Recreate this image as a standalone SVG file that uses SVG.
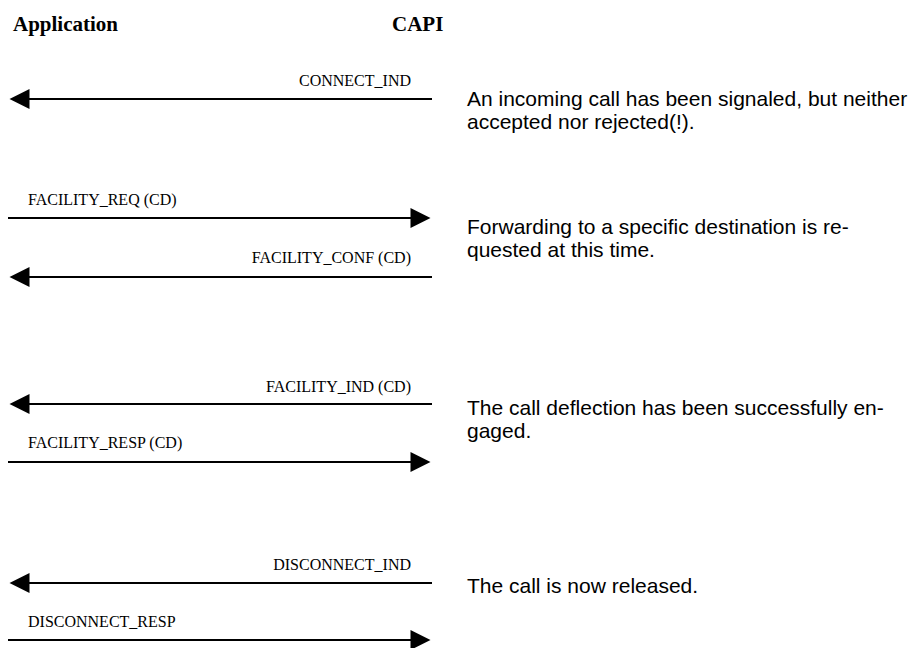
<svg xmlns="http://www.w3.org/2000/svg" width="919" height="648" viewBox="0 0 919 648">
<style>
.hdr{font-family:"Liberation Serif","Times New Roman",serif;font-weight:bold;font-size:21px;fill:#000}
.lbl{font-family:"Liberation Serif","Times New Roman",serif;font-size:16px;fill:#000}
.note{font-family:"Liberation Sans",Arial,sans-serif;font-size:21px;fill:#000}
.ln{stroke:#000;stroke-width:2;fill:none}
.hd{fill:#000;stroke:none}
</style>
<rect width="919" height="648" fill="#fff"/>
<g id="header">
<text class="hdr" x="13" y="31">Application</text>
<text class="hdr" x="392" y="31">CAPI</text>
</g>
<g id="connectors">
<g id="c1"><line class="ln" x1="432" y1="99" x2="28" y2="99"/><polygon class="hd" points="9.5,99 29.5,89 29.5,109"/></g>
<g id="c2"><line class="ln" x1="8" y1="218" x2="412" y2="218"/><polygon class="hd" points="430.5,218 410.5,208 410.5,228"/></g>
<g id="c3"><line class="ln" x1="432" y1="277" x2="28" y2="277"/><polygon class="hd" points="9.5,277 29.5,267 29.5,287"/></g>
<g id="c4"><line class="ln" x1="432" y1="404" x2="28" y2="404"/><polygon class="hd" points="9.5,404 29.5,394 29.5,414"/></g>
<g id="c5"><line class="ln" x1="8" y1="462" x2="412" y2="462"/><polygon class="hd" points="430.5,462 410.5,452 410.5,472"/></g>
<g id="c6"><line class="ln" x1="432" y1="583" x2="28" y2="583"/><polygon class="hd" points="9.5,583 29.5,573 29.5,593"/></g>
<g id="c7"><line class="ln" x1="8" y1="640" x2="412" y2="640"/><polygon class="hd" points="430.5,640 410.5,630 410.5,650"/></g>
</g>
<g id="labels">
<text class="lbl" x="411" y="86" text-anchor="end">CONNECT_IND</text>
<text class="lbl" x="28" y="205">FACILITY_REQ (CD)</text>
<text class="lbl" x="411" y="263" text-anchor="end">FACILITY_CONF (CD)</text>
<text class="lbl" x="411" y="392" text-anchor="end">FACILITY_IND (CD)</text>
<text class="lbl" x="28" y="448">FACILITY_RESP (CD)</text>
<text class="lbl" x="411" y="570" text-anchor="end">DISCONNECT_IND</text>
<text class="lbl" x="28" y="627">DISCONNECT_RESP</text>
</g>
<g id="notes">
<text class="note" x="467" y="106">An incoming call has been signaled, but neither</text>
<text class="note" x="467" y="129">accepted nor rejected(!).</text>
<text class="note" x="467" y="234">Forwarding to a specific destination is re-</text>
<text class="note" x="467" y="257">quested at this time.</text>
<text class="note" x="467" y="415">The call deflection has been successfully en-</text>
<text class="note" x="467" y="438">gaged.</text>
<text class="note" x="467" y="593">The call is now released.</text>
</g>
</svg>
